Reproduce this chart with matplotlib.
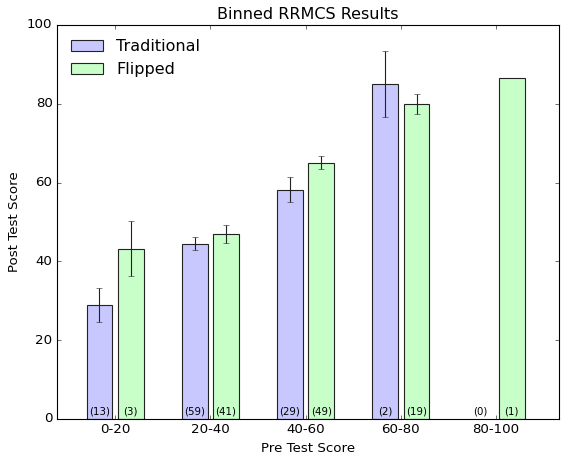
import numpy as np
import matplotlib
matplotlib.use('Agg')
from matplotlib import pyplot as plt

# 分组数据
bins = ['0-20', '20-40', '40-60', '60-80', '80-100']
trad_mean = [28.9, 44.5, 58.2, 85.0, np.nan]
trad_err = [4.4, 1.7, 3.25, 8.3, np.nan]
trad_n = [13, 59, 29, 2, 0]
flip_mean = [43.2, 46.95, 65.1, 79.9, 86.6]
flip_err = [7.0, 2.2, 1.75, 2.6, np.nan]
flip_n = [3, 41, 49, 19, 1]

plt.style.use('classic')

fig = plt.figure(figsize=(561 / 80.0, 454 / 80.0), dpi=80)
ax = fig.add_axes([57 / 561.0, 35 / 454.0, 502 / 561.0, 394 / 454.0])

ind = np.arange(len(bins))
width = 0.27
off = 0.165

ax.bar(ind - off, trad_mean, width, yerr=trad_err, color='#c8c8ff',
       edgecolor='#222222', ecolor='#222222', align='center', label='Traditional')
ax.bar(ind + off, flip_mean, width, yerr=flip_err, color='#c8ffc8',
       edgecolor='#222222', ecolor='#222222', align='center', label='Flipped')

# 每个柱子底部标注样本数
for i in ind:
    ax.text(i - off, 0.6, '(%d)' % trad_n[i], ha='center', va='bottom', fontsize=9.2)
    ax.text(i + off, 0.6, '(%d)' % flip_n[i], ha='center', va='bottom', fontsize=9.2)

ax.set_xticks(ind)
ax.set_xticklabels(bins)
ax.set_xlim(-0.61, 4.66)
ax.set_ylim(0, 100)
ax.set_xlabel('Pre Test Score')
ax.set_ylabel('Post Test Score')
ax.set_title('Binned RRMCS Results', fontsize=14.4)
ax.legend(loc='upper left', frameon=False, fontsize=14.4)

plt.savefig('out.png', dpi=80)
